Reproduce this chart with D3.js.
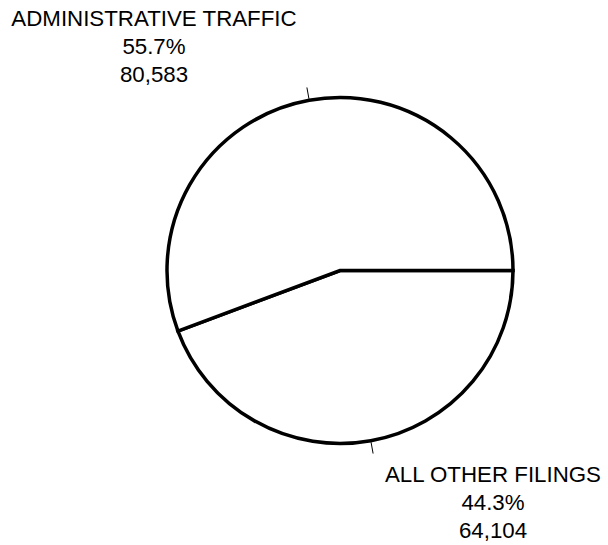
<!DOCTYPE html>
<html>
<head>
<meta charset="utf-8">
<script src="https://cdn.jsdelivr.net/npm/d3@7"></script>
<style>
  html, body { margin: 0; padding: 0; background: #fff; }
  text { font-family: "Liberation Sans", Arial, sans-serif; font-size: 22.3px; fill: #000; }
</style>
</head>
<body>
<svg id="chart" width="608" height="545"></svg>
<script>
// data
const categories = ["ADMINISTRATIVE TRAFFIC", "ALL OTHER FILINGS"];
const counts = [80583, 64104];
const percents = ["55.7%", "44.3%"];

const svg = d3.select("#chart");
const cx = 340, cy = 270.5, radius = 173;

// label blocks: centre x and first baseline for each category
const labelPos = [
  { x: 154, y: 26 },
  { x: 493, y: 482 }
];
const lineGap = 28;

const slices = categories.map((c, i) => ({ name: c, value: counts[i], pct: percents[i], idx: i }));

// admin runs counter-clockwise from 3 o'clock, so feed the pie in reverse
const pie = d3.pie()
  .value(d => d.value)
  .sort(null)
  .startAngle(Math.PI / 2)
  .endAngle(Math.PI / 2 + 2 * Math.PI);

const arcs = pie(slices.slice().reverse());

const arc = d3.arc().innerRadius(0).outerRadius(radius);

const g = svg.append("g").attr("transform", `translate(${cx},${cy})`);

g.selectAll("path.slice")
  .data(arcs)
  .join("path")
  .attr("class", "slice")
  .attr("d", arc)
  .attr("fill", "#fff")
  .attr("stroke", "#000")
  .attr("stroke-width", 3.5)
  .attr("stroke-linejoin", "miter");

// little leader ticks at each slice's mid angle
g.selectAll("line.tick")
  .data(arcs)
  .join("line")
  .attr("class", "tick")
  .each(function (d) {
    const a = (d.startAngle + d.endAngle) / 2;
    const r0 = radius + 1.5, r1 = radius + 13;
    d3.select(this)
      .attr("x1", Math.sin(a) * r0).attr("y1", -Math.cos(a) * r0)
      .attr("x2", Math.sin(a) * r1).attr("y2", -Math.cos(a) * r1);
  })
  .attr("stroke", "#000")
  .attr("stroke-width", 1);

const fmt = d3.format(",");

slices.forEach((s, i) => {
  const p = labelPos[i];
  const t = svg.append("text")
    .attr("text-anchor", "middle")
    .attr("x", p.x)
    .attr("y", p.y);
  [s.name, s.pct, fmt(s.value)].forEach((line, k) => {
    t.append("tspan")
      .attr("x", p.x)
      .attr("dy", k === 0 ? 0 : lineGap)
      .text(line);
  });
});
</script>
</body>
</html>
